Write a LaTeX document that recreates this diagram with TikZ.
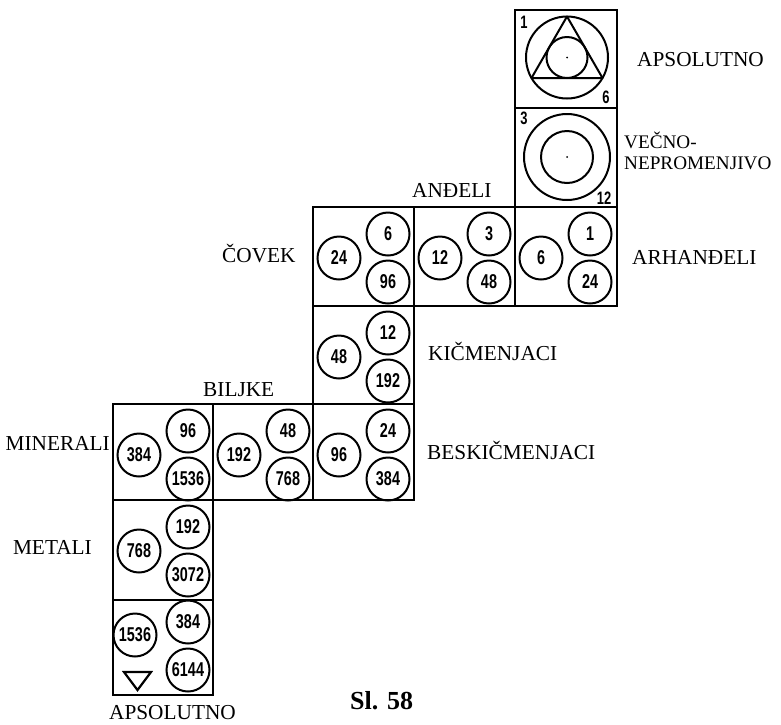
\documentclass[tikz,border=0pt]{standalone}
\usepackage{fontspec}
\setmainfont{Liberation Serif}
\newfontfamily\numfont{Liberation Sans}
\newcommand\numtxt[1]{\scalebox{0.72}[1]{#1}}
\newcommand\trio[6]{%
  \node[ring] (#1a) at (#2+26,#3+51) {\numtxt{#4}};
  \node[ring] (#1b) at (#2+75,#3+27) {\numtxt{#5}};
  \node[ring] (#1c) at (#2+75,#3+75) {\numtxt{#6}};}
\begin{document}
\begin{tikzpicture}[x=1pt,y=-1pt,
  cellbox/.style={draw, line width=2.2pt},
  ring/.style={draw, line width=2pt, circle, minimum size=43pt, inner sep=0pt,
    font=\numfont\bfseries\fontsize{20}{20}\selectfont},
  bigring/.style={draw, line width=2pt},
  corner/.style={inner sep=0pt, font=\numfont\bfseries\fontsize{18}{18}\selectfont},
  lbl/.style={inner sep=0pt, font=\fontsize{21.3}{21.3}\selectfont},
  smalllbl/.style={inner sep=0pt, font=\fontsize{19.2}{19.2}\selectfont}]
\useasboundingbox (0,0) rectangle (781,724);
% cells
\draw[cellbox] (515,10) rectangle (617,108);
\draw[cellbox] (515,108) rectangle (617,207);
\draw[cellbox] (313,207) rectangle (414,306);
\draw[cellbox] (414,207) rectangle (515,306);
\draw[cellbox] (515,207) rectangle (617,306);
\draw[cellbox] (313,306) rectangle (414,404);
\draw[cellbox] (113,404) rectangle (213,500);
\draw[cellbox] (213,404) rectangle (313,500);
\draw[cellbox] (313,404) rectangle (414,500);
\draw[cellbox] (113,500) rectangle (213,600);
\draw[cellbox] (113,600) rectangle (213,695);
% top cell: circle, triangle, incircle
\draw[bigring] (567,57.5) circle[radius=41];
\draw[bigring] (567,57.5) circle[radius=20.5];
\draw[bigring, line join=round] (567,16.5) -- (602.5,78) -- (531.5,78) -- cycle;
\fill (567,57.5) circle[radius=1];
\node[corner] (t1) at (524,22) {\numtxt{1}};
\node[corner] (t6) at (606,97) {\numtxt{6}};
% second cell
\draw[bigring] (567,157) circle[radius=43];
\draw[bigring] (567,157) circle[radius=26];
\fill (567,157) circle[radius=1];
\node[corner] (t3) at (524,118) {\numtxt{3}};
\node[corner] (t12) at (604,198) {\numtxt{12}};
% trios
\trio{cov}{313}{207}{24}{6}{96}
\trio{and}{414}{207}{12}{3}{48}
\trio{arh}{515}{207}{6}{1}{24}
\trio{kic}{313}{306}{48}{12}{192}
\trio{min}{113}{404}{384}{96}{1536}
\trio{bil}{213}{404}{192}{48}{768}
\trio{bes}{313}{404}{96}{24}{384}
\trio{met}{113}{500}{768}{192}{3072}
% bottom cell
\node[ring] (absa) at (135,635) {\numtxt{1536}};
\node[ring] (absb) at (188,622) {\numtxt{384}};
\node[ring] (absc) at (188,670) {\numtxt{6144}};
\draw[line width=2.2pt, line join=miter] (124,672) -- (151,672) -- (137.5,690) -- cycle;
% labels
\node[lbl, anchor=base west] (l1) at (637,66.7) {APSOLUTNO};
\node[smalllbl, anchor=base west] (l2) at (624,148) {VEČNO-};
\node[smalllbl, anchor=base west] (l3) at (624,169) {NEPROMENJIVO};
\node[lbl, anchor=base west] (l4) at (412,197.3) {ANĐELI};
\node[lbl, anchor=base west] (l5) at (222,262.7) {ČOVEK};
\node[lbl, anchor=base west] (l6) at (632,264.3) {ARHANĐELI};
\node[lbl, anchor=base west] (l7) at (428,360) {KIČMENJACI};
\node[lbl, anchor=base west] (l8) at (203,396.7) {BILJKE};
\node[lbl, anchor=base east] (l9) at (110,450) {MINERALI};
\node[lbl, anchor=base west] (l10) at (427,459.3) {BESKIČMENJACI};
\node[lbl, anchor=base east] (l11) at (92,554) {METALI};
\node[lbl, anchor=base east] (l12) at (236,719.5) {APSOLUTNO};
\node[lbl, anchor=base west, font=\bfseries\fontsize{26}{26}\selectfont] (sl) at (350,709) {Sl. 58};
\end{tikzpicture}
\end{document}
